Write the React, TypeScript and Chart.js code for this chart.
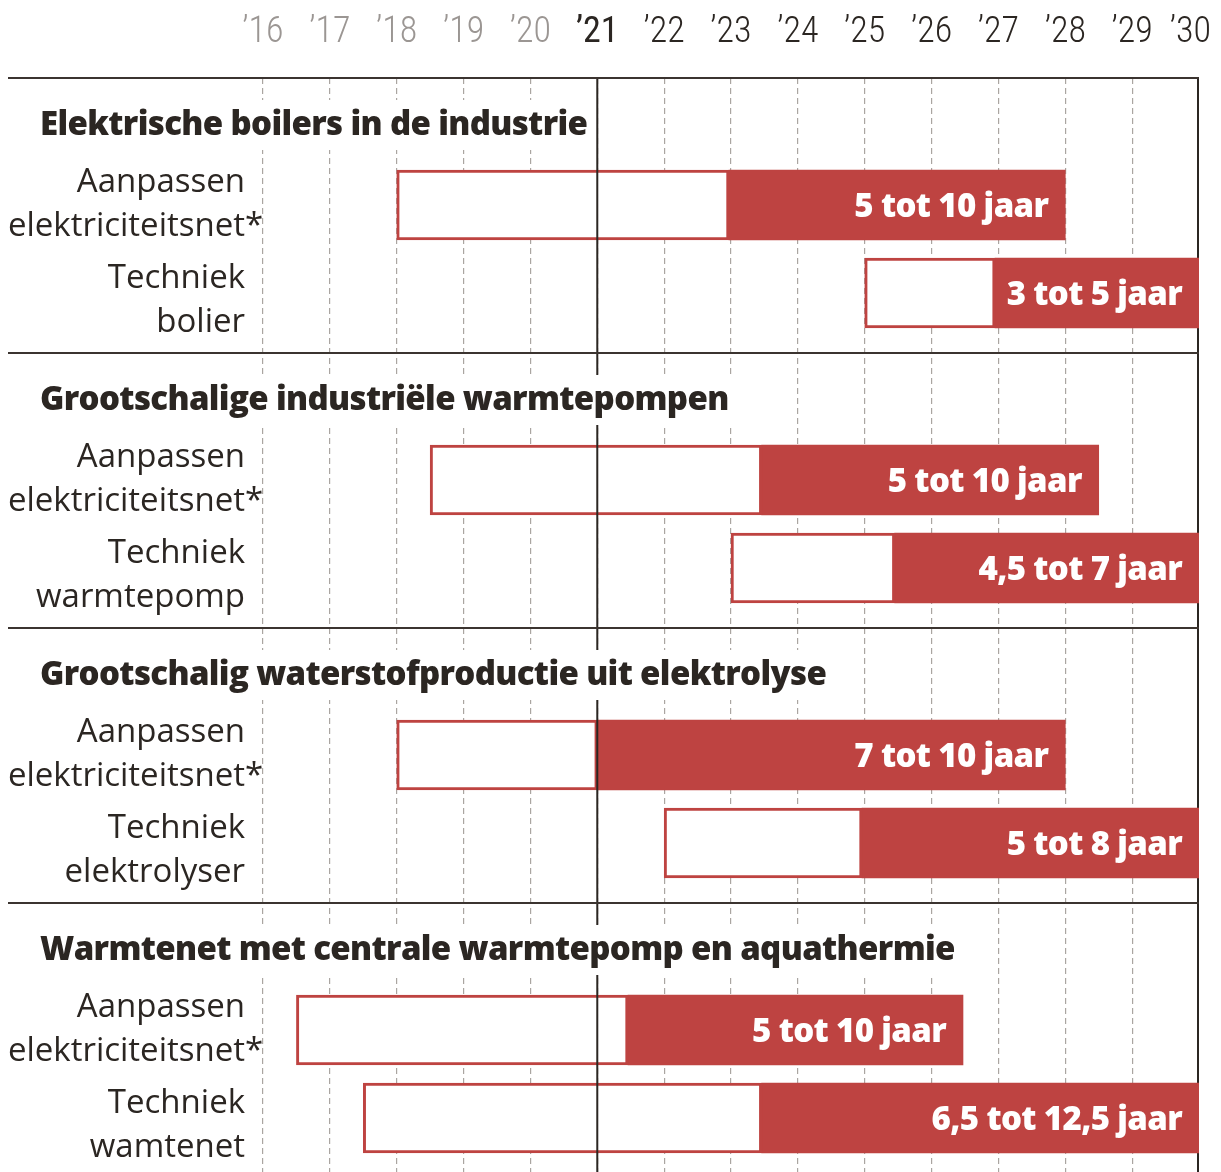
import React, { useEffect, useRef } from "react";
import { Chart, registerables } from "chart.js";

Chart.register(...registerables);

// ---------- data ----------
const groupTitles = [
  "Elektrische boilers in de industrie",
  "Grootschalige industriële warmtepompen",
  "Grootschalig waterstofproductie uit elektrolyse",
  "Warmtenet met centrale warmtepomp en aquathermie",
];

const rowLabels = [
  ["Aanpassen", "elektriciteitsnet*"],
  ["Techniek", "bolier"],
  ["Aanpassen", "elektriciteitsnet*"],
  ["Techniek", "warmtepomp"],
  ["Aanpassen", "elektriciteitsnet*"],
  ["Techniek", "elektrolyser"],
  ["Aanpassen", "elektriciteitsnet*"],
  ["Techniek", "wamtenet"],
];

// start of the (white) minimum period
const startYears = [2018, 2025, 2018.5, 2023, 2018, 2022, 2016.5, 2017.5];
// end of minimum duration / start of red part
const minEndYears = [2022.97, 2026.95, 2023.46, 2025.45, 2021, 2024.96, 2021.46, 2023.46];
// end of maximum duration
const maxEndYears = [2028, 2030, 2028.5, 2030, 2028, 2030, 2026.47, 2030];

const durationLabels = [
  "5 tot 10 jaar",
  "3 tot 5 jaar",
  "5 tot 10 jaar",
  "4,5 tot 7 jaar",
  "7 tot 10 jaar",
  "5 tot 8 jaar",
  "5 tot 10 jaar",
  "6,5 tot 12,5 jaar",
];

const firstYear = 2016;
const yearLabels = ["’16", "’17", "’18", "’19", "’20", "’21", "’22", "’23", "’24", "’25", "’26", "’27", "’28", "’29", "’30"];
const currentYear = 2021;
const axisMinYear = 2012.186;

// ---------- layout / style ----------
const W = 1213;
const H = 1164;
const RED = "#be4341";
const DARK = "#2b2622";
const GRAY_TICK = "#9b9693";
const GRID = "#aaa5a1";
const FONT = '"Open Sans", "Noto Sans", sans-serif';
const TICK_FONT = '"Roboto Condensed", "Open Sans", sans-serif';
const GROUP_UNITS = 1094 / 275; // visible span in group units
const ROW_SLOT = [127 / 275, 215 / 275]; // row centre within a group
const LABEL_BASE_SHIFT = [-13, -5];
const TITLE_BASE = 57 / 275;

const rowPos = (i: number) => Math.floor(i / 2) + ROW_SLOT[i % 2];

const decorPlugin = {
  id: "decor",
  beforeDatasetsDraw(chart: any) {
    const { ctx, chartArea } = chart;
    const x = chart.scales.x;
    const xr = x.getPixelForValue(2030);
    ctx.save();
    ctx.strokeStyle = DARK;
    ctx.lineWidth = 2;
    ctx.beginPath();
    ctx.moveTo(xr - 1, chartArea.top);
    ctx.lineTo(xr - 1, chartArea.bottom);
    ctx.stroke();
    ctx.restore();
  },
  afterDatasetsDraw(chart: any) {
    const { ctx, chartArea } = chart;
    const x = chart.scales.x;
    const y = chart.scales.y;
    ctx.save();

    // current-year line
    const xc = x.getPixelForValue(currentYear);
    ctx.strokeStyle = DARK;
    ctx.lineWidth = 2;
    ctx.beginPath();
    ctx.moveTo(xc, chartArea.top);
    ctx.lineTo(xc, chartArea.bottom);
    ctx.stroke();

    // horizontal group separators
    const xr = x.getPixelForValue(2030);
    ctx.strokeStyle = "#3b3430";
    ctx.lineWidth = 2;
    for (let g = 0; g < groupTitles.length; g++) {
      const yy = Math.round(y.getPixelForValue(g));
      ctx.beginPath();
      ctx.moveTo(chartArea.left, yy);
      ctx.lineTo(xr, yy);
      ctx.stroke();
    }

    // group titles with white backing
    ctx.font = `800 33px ${FONT}`;
    ctx.letterSpacing = "-0.65px";
    ctx.textAlign = "left";
    ctx.textBaseline = "alphabetic";
    groupTitles.forEach((t, g) => {
      const yLine = y.getPixelForValue(g);
      const base = y.getPixelForValue(g + TITLE_BASE);
      const w = ctx.measureText(t).width;
      ctx.fillStyle = "#ffffff";
      ctx.fillRect(chartArea.left + 26, yLine + 22, w + 14, 50);
      ctx.fillStyle = DARK;
      ctx.fillText(t, chartArea.left + 32, base);
    });

    // duration labels in red bars
    ctx.fillStyle = "#ffffff";
    ctx.textAlign = "right";
    durationLabels.forEach((t, i) => {
      const c = y.getPixelForValue(rowPos(i));
      const xe = x.getPixelForValue(maxEndYears[i]);
      ctx.fillText(t, xe - 17, c + 12);
    });
    ctx.letterSpacing = "0px";

    // row labels
    ctx.font = `33px ${FONT}`;
    ctx.textAlign = "right";
    ctx.fillStyle = DARK;
    const starW = ctx.measureText("*").width;
    rowLabels.forEach((lines, i) => {
      const c = y.getPixelForValue(rowPos(i));
      const b0 = c + LABEL_BASE_SHIFT[i % 2];
      lines.forEach((ln, k) => {
        const right = chartArea.left + 237 + (ln.endsWith("*") ? starW : 0);
        ctx.fillText(ln, right, b0 + k * 44);
      });
    });

    // year tick labels (top)
    ctx.textAlign = "center";
    yearLabels.forEach((lab, k) => {
      const v = firstYear + k;
      const isCur = v === currentYear;
      ctx.font = `${isCur ? 400 : 300} 36px ${TICK_FONT}`;
      ctx.fillStyle = v < currentYear ? GRAY_TICK : DARK;
      const w = ctx.measureText(lab).width;
      let px = x.getPixelForValue(v);
      px = Math.min(px, W - 10 - w / 2);
      ctx.fillText(lab, px, 34);
    });

    ctx.restore();
  },
};

export default function App() {
  const ref = useRef<HTMLCanvasElement>(null);
  useEffect(() => {
    const canvas = ref.current!;
    const whiteData = startYears.map((s, i) => ({ x: [s, minEndYears[i]], y: rowPos(i) }));
    const redData = minEndYears.map((s, i) => ({ x: [s, maxEndYears[i]], y: rowPos(i) }));
    const chart = new Chart(canvas, {
      type: "bar",
      data: {
        datasets: [
          {
            label: "minimaal",
            data: whiteData as any,
            backgroundColor: "#ffffff",
            borderColor: RED,
            borderWidth: 3,
            borderSkipped: false,
            barThickness: 70,
            grouped: false,
          } as any,
          {
            label: "maximaal",
            data: redData as any,
            backgroundColor: RED,
            borderWidth: 0,
            barThickness: 70,
            grouped: false,
          } as any,
        ],
      },
      plugins: [decorPlugin],
      options: {
        indexAxis: "y",
        animation: false,
        responsive: false,
        devicePixelRatio: 1,
        layout: { padding: { top: 70, right: 22, left: 0, bottom: 0 } },
        plugins: { legend: { display: false }, tooltip: { enabled: false } },
        scales: {
          x: {
            type: "linear",
            position: "top",
            min: axisMinYear,
            max: 2030,
            afterBuildTicks: (s: any) => {
              s.ticks = yearLabels.map((_, k) => ({ value: firstYear + k }));
            },
            ticks: { display: false },
            grid: {
              drawTicks: false,
              color: (c: any) => (c.tick && c.tick.value < 2030 ? GRID : "rgba(0,0,0,0)"),
              lineWidth: 1.2,
            },
            border: { display: false, dash: [6, 4] },
          },
          y: {
            type: "linear",
            display: false,
            offset: false,
            min: 0,
            max: GROUP_UNITS,
            reverse: true,
            grid: { display: false, offset: false },
          },
        },
      } as any,
    });
    return () => chart.destroy();
  }, []);
  return (
    <div style={{ width: W, height: H }}>
      <canvas ref={ref} width={W} height={H} style={{ display: "block" }} />
    </div>
  );
}
